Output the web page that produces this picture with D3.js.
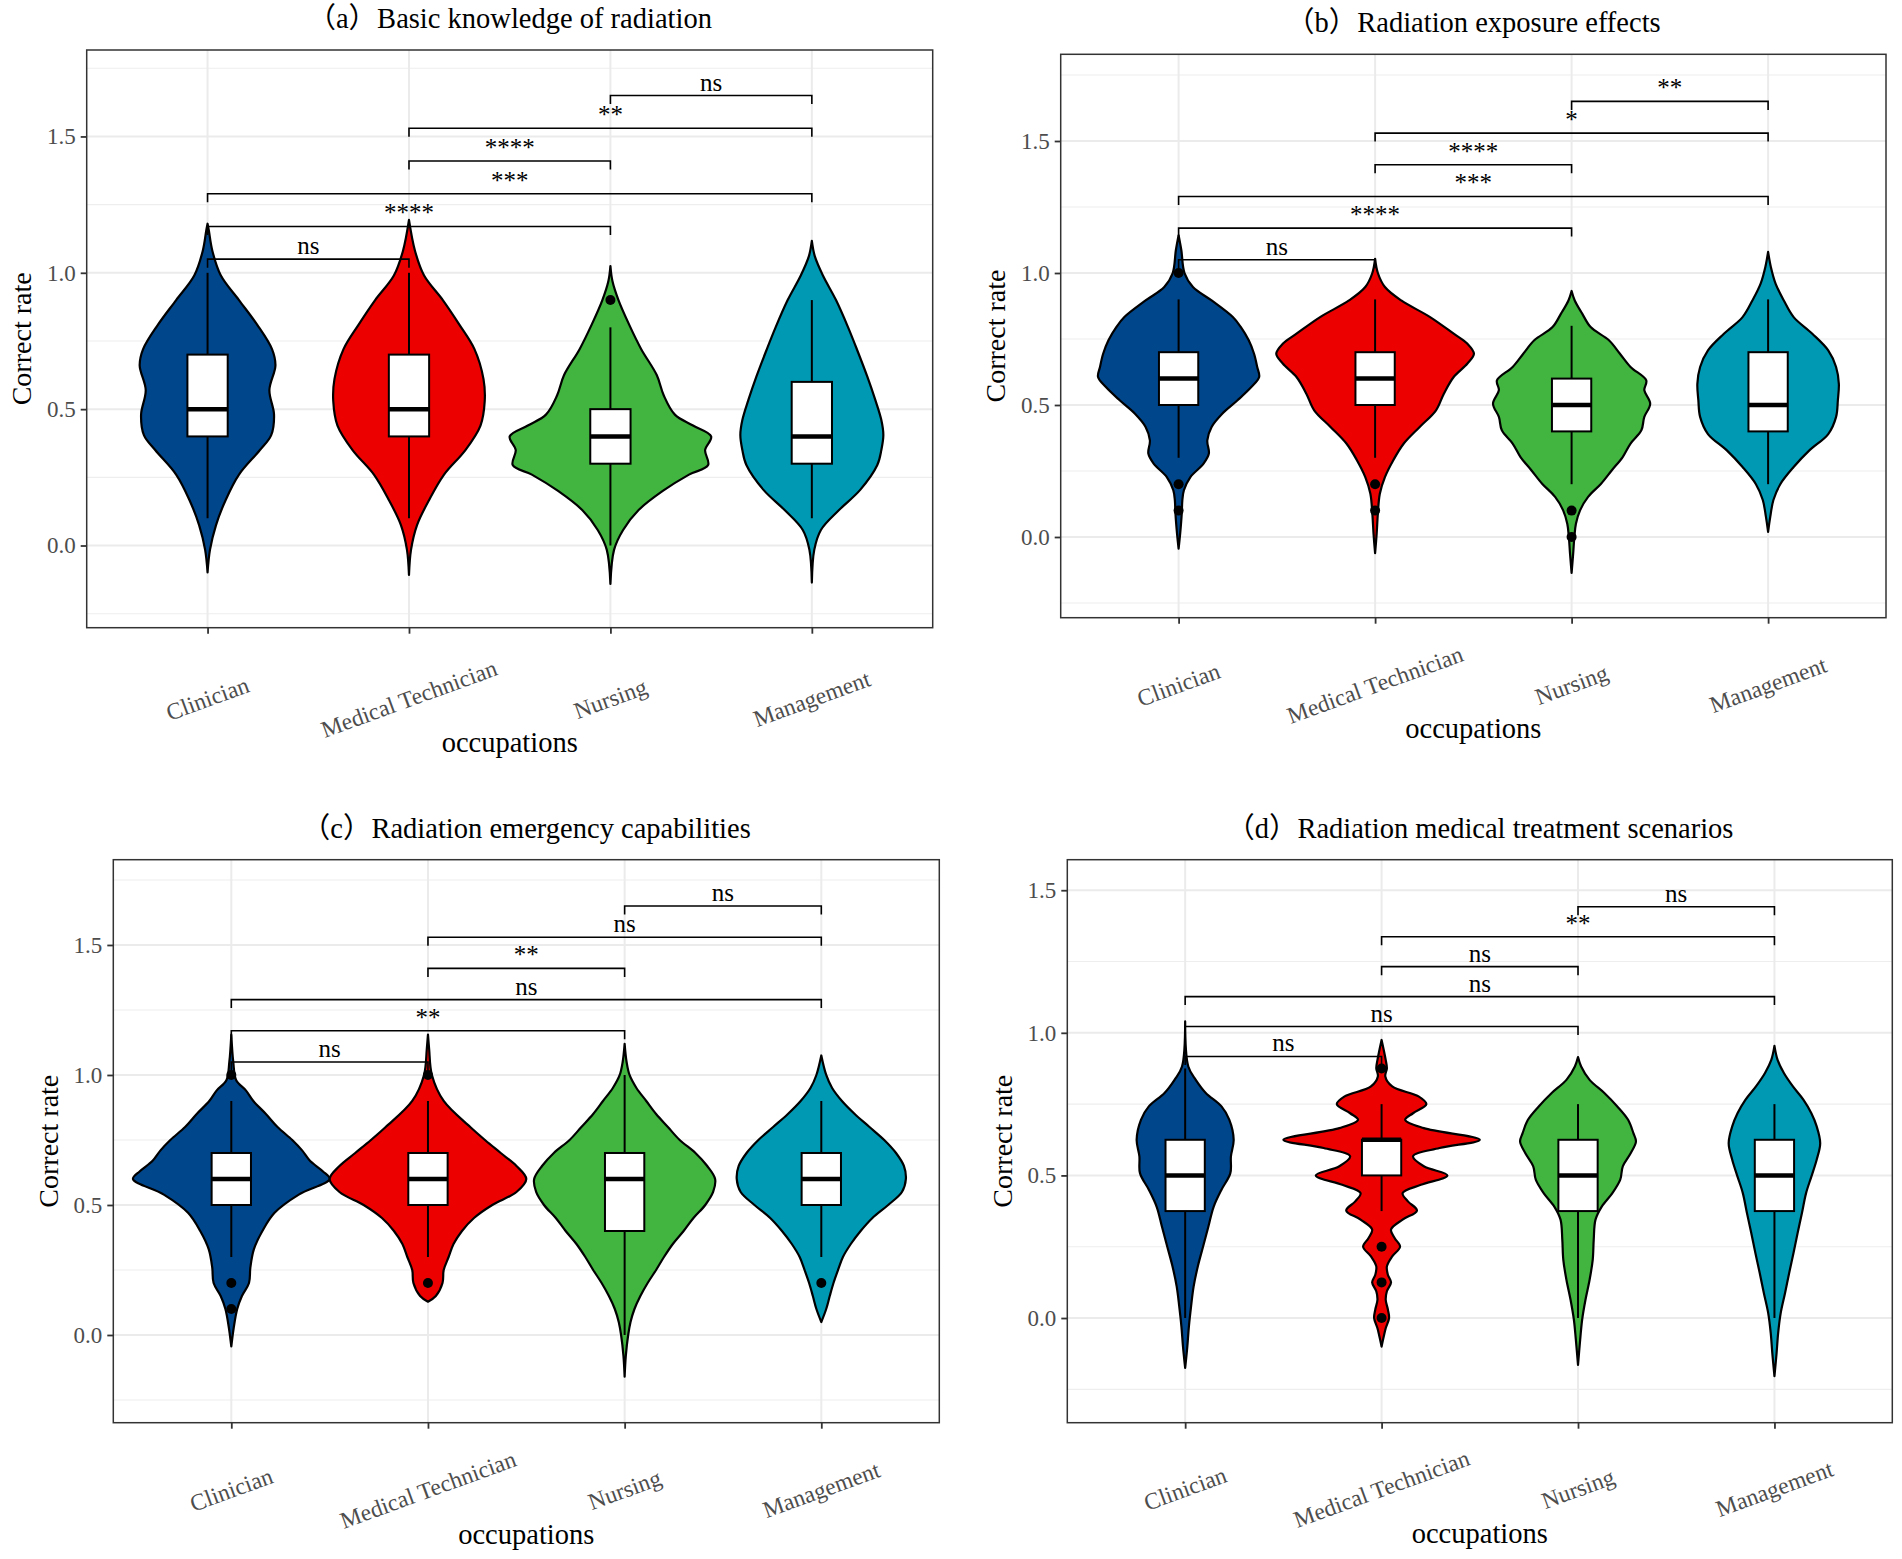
<!DOCTYPE html>
<html>
<head>
<meta charset="utf-8">
<script src="https://cdn.jsdelivr.net/npm/d3@7"></script>
<style>
  body { margin: 0; background: #fff; }
  text { font-family: "Liberation Serif", "Noto Sans CJK SC", serif; }
</style>
</head>
<body>
<div id="chart"></div>
<script>
// ---- data ----
var occupations = ["Clinician", "Medical Technician", "Nursing", "Management"];
var colors = ["#00468B", "#ED0000", "#42B540", "#0099B4"];
var titles = [
  "（a）Basic knowledge of radiation",
  "（b）Radiation exposure effects",
  "（c）Radiation emergency capabilities",
  "（d）Radiation medical treatment scenarios"
];

// comparison pairs, bottom bracket first
var pairs = [[0, 1], [0, 2], [0, 3], [1, 2], [1, 3], [2, 3]];
var sigA = ["ns", "****", "***", "****", "**", "ns"];
var sigB = ["ns", "****", "***", "****", "*", "**"];
var sigC = ["ns", "**", "ns", "**", "ns", "ns"];
var sigD = ["ns", "ns", "ns", "ns", "**", "ns"];
var bracketY = [1.05, 1.17, 1.29, 1.41, 1.53, 1.65];
var bracketYD = [0.917, 1.022, 1.127, 1.232, 1.337, 1.442];

// box stats: [lower whisker, Q1, median, Q3, upper whisker]
var boxA = [[0.1, 0.4, 0.5, 0.7, 1.0], [0.1, 0.4, 0.5, 0.7, 1.0], [0.0, 0.3, 0.4, 0.5, 0.8], [0.1, 0.3, 0.4, 0.6, 0.9]];
var boxB = [[0.3, 0.5, 0.6, 0.7, 0.9], [0.3, 0.5, 0.6, 0.7, 0.9], [0.2, 0.4, 0.5, 0.6, 0.8], [0.2, 0.4, 0.5, 0.7, 0.9]];
var boxC = [[0.3, 0.5, 0.6, 0.7, 0.9], [0.3, 0.5, 0.6, 0.7, 0.9], [0.0, 0.4, 0.6, 0.7, 1.0], [0.3, 0.5, 0.6, 0.7, 0.9]];
var boxD = [[0.0, 0.375, 0.5, 0.625, 0.875], [0.375, 0.5, 0.625, 0.625, 0.75], [0.0, 0.375, 0.5, 0.625, 0.75], [0.0, 0.375, 0.5, 0.625, 0.75]];

var outA = [[], [], [0.9], []];
var outB = [[1.0, 0.2, 0.1], [0.2, 0.1], [0.1, 0.0], []];
var outC = [[1.0, 0.2, 0.1], [1.0, 0.2], [], [0.2]];
var outD = [[], [0.875, 0.25, 0.125, 0.0], [], []];

// violin outlines: [correct rate, half width in category steps]
var violinA = [
  [[1.18, 0], [1.157, 0.006], [1.08, 0.024], [0.99, 0.066], [0.90, 0.156], [0.81, 0.246], [0.72, 0.32], [0.66, 0.337], [0.57, 0.307], [0.48, 0.33], [0.405, 0.316], [0.35, 0.26], [0.26, 0.156], [0.167, 0.09], [0.075, 0.042], [-0.016, 0.012], [-0.099, 0]],
  [[1.194, 0], [1.08, 0.03], [0.99, 0.075], [0.90, 0.168], [0.81, 0.25], [0.72, 0.325], [0.61, 0.37], [0.53, 0.376], [0.44, 0.355], [0.35, 0.28], [0.26, 0.174], [0.167, 0.1], [0.075, 0.04], [-0.016, 0.01], [-0.108, 0]],
  [[1.025, 0], [0.97, 0.01], [0.90, 0.04], [0.81, 0.093], [0.72, 0.153], [0.625, 0.23], [0.55, 0.265], [0.48, 0.32], [0.44, 0.41], [0.40, 0.5], [0.35, 0.47], [0.295, 0.485], [0.26, 0.39], [0.2, 0.26], [0.13, 0.14], [0.057, 0.063], [-0.016, 0.018], [-0.141, 0]],
  [[1.117, 0], [1.06, 0.015], [0.99, 0.055], [0.90, 0.12], [0.80, 0.18], [0.717, 0.225], [0.62, 0.275], [0.534, 0.315], [0.46, 0.345], [0.405, 0.355], [0.35, 0.345], [0.295, 0.325], [0.204, 0.24], [0.13, 0.135], [0.057, 0.045], [-0.016, 0.012], [-0.136, 0]]
];
var violinB = [
  [[1.143, 0], [1.086, 0.014], [1.0, 0.03], [0.947, 0.073], [0.896, 0.168], [0.833, 0.276], [0.795, 0.317], [0.745, 0.357], [0.694, 0.384], [0.644, 0.4], [0.606, 0.41], [0.568, 0.37], [0.518, 0.30], [0.467, 0.222], [0.417, 0.168], [0.366, 0.146], [0.316, 0.154], [0.278, 0.127], [0.227, 0.06], [0.177, 0.027], [0.139, 0.019], [0.088, 0.016], [0.013, 0.008], [-0.044, 0]],
  [[1.054, 0], [1.0, 0.014], [0.947, 0.05], [0.896, 0.133], [0.833, 0.28], [0.77, 0.40], [0.732, 0.47], [0.694, 0.503], [0.657, 0.47], [0.606, 0.40], [0.543, 0.35], [0.48, 0.31], [0.417, 0.227], [0.354, 0.146], [0.29, 0.092], [0.227, 0.05], [0.164, 0.024], [0.088, 0.014], [0.013, 0.008], [-0.061, 0]],
  [[0.932, 0], [0.896, 0.016], [0.846, 0.054], [0.795, 0.097], [0.745, 0.19], [0.694, 0.246], [0.644, 0.30], [0.593, 0.38], [0.556, 0.37], [0.505, 0.40], [0.455, 0.37], [0.404, 0.355], [0.354, 0.30], [0.303, 0.26], [0.253, 0.205], [0.202, 0.15], [0.152, 0.084], [0.101, 0.043], [0.05, 0.022], [0.0, 0.014], [-0.063, 0.008], [-0.136, 0]],
  [[1.08, 0], [1.023, 0.014], [0.96, 0.038], [0.896, 0.08], [0.833, 0.13], [0.77, 0.225], [0.707, 0.306], [0.644, 0.346], [0.58, 0.36], [0.518, 0.355], [0.455, 0.346], [0.39, 0.306], [0.328, 0.21], [0.265, 0.13], [0.2, 0.062], [0.14, 0.027], [0.076, 0.011], [0.019, 0]]
];
var violinC = [
  [[1.155, 0], [1.05, 0.01], [0.98, 0.025], [0.94, 0.075], [0.90, 0.112], [0.85, 0.176], [0.80, 0.235], [0.75, 0.31], [0.71, 0.36], [0.67, 0.40], [0.63, 0.465], [0.60, 0.50], [0.54, 0.343], [0.47, 0.22], [0.40, 0.158], [0.33, 0.115], [0.26, 0.097], [0.2, 0.09], [0.15, 0.054], [0.1, 0.03], [0.026, 0.012], [-0.044, 0]],
  [[1.155, 0], [1.1, 0.006], [1.0, 0.02], [0.9, 0.08], [0.8, 0.215], [0.75, 0.29], [0.7, 0.37], [0.65, 0.45], [0.6, 0.50], [0.55, 0.45], [0.5, 0.327], [0.45, 0.234], [0.4, 0.173], [0.35, 0.13], [0.3, 0.105], [0.25, 0.08], [0.2, 0.074], [0.15, 0.04], [0.128, 0]],
  [[1.12, 0], [1.05, 0.01], [1.0, 0.025], [0.95, 0.06], [0.9, 0.11], [0.85, 0.16], [0.8, 0.22], [0.75, 0.28], [0.7, 0.36], [0.65, 0.42], [0.6, 0.46], [0.55, 0.45], [0.5, 0.41], [0.45, 0.35], [0.4, 0.30], [0.35, 0.245], [0.3, 0.2], [0.25, 0.16], [0.2, 0.117], [0.15, 0.08], [0.1, 0.05], [0.05, 0.03], [0.0, 0.018], [-0.08, 0.006], [-0.16, 0]],
  [[1.075, 0], [1.0, 0.025], [0.95, 0.055], [0.9, 0.105], [0.85, 0.17], [0.8, 0.245], [0.75, 0.32], [0.7, 0.38], [0.65, 0.42], [0.6, 0.43], [0.55, 0.41], [0.5, 0.34], [0.45, 0.26], [0.4, 0.2], [0.35, 0.15], [0.3, 0.11], [0.25, 0.085], [0.2, 0.062], [0.15, 0.043], [0.1, 0.025], [0.05, 0]]
];
var violinD = [
  [[1.04, 0], [0.882, 0.016], [0.835, 0.054], [0.789, 0.105], [0.742, 0.185], [0.695, 0.225], [0.625, 0.247], [0.567, 0.233], [0.508, 0.23], [0.45, 0.185], [0.39, 0.145], [0.32, 0.118], [0.25, 0.091], [0.18, 0.064], [0.11, 0.043], [0.04, 0.03], [-0.03, 0.019], [-0.1, 0.011], [-0.175, 0]],
  [[0.975, 0], [0.94, 0.011], [0.905, 0.021], [0.876, 0.027], [0.847, 0.019], [0.812, 0.054], [0.777, 0.188], [0.75, 0.228], [0.718, 0.16], [0.695, 0.12], [0.666, 0.215], [0.625, 0.50], [0.596, 0.295], [0.567, 0.16], [0.532, 0.215], [0.5, 0.335], [0.467, 0.2], [0.438, 0.107], [0.409, 0.134], [0.377, 0.18], [0.345, 0.107], [0.31, 0.048], [0.28, 0.067], [0.25, 0.094], [0.216, 0.054], [0.181, 0.027], [0.152, 0.032], [0.125, 0.048], [0.094, 0.027], [0.064, 0.021], [0.03, 0.032], [0.0, 0.038], [-0.036, 0.021], [-0.065, 0.011], [-0.1, 0]],
  [[0.915, 0], [0.882, 0.016], [0.835, 0.059], [0.789, 0.134], [0.742, 0.2], [0.695, 0.255], [0.648, 0.282], [0.619, 0.295], [0.578, 0.268], [0.532, 0.228], [0.485, 0.215], [0.438, 0.175], [0.39, 0.12], [0.345, 0.089], [0.275, 0.08], [0.205, 0.075], [0.134, 0.059], [0.064, 0.038], [-0.006, 0.021], [-0.076, 0.011], [-0.164, 0]],
  [[0.954, 0], [0.905, 0.016], [0.859, 0.048], [0.812, 0.094], [0.765, 0.148], [0.718, 0.188], [0.672, 0.215], [0.613, 0.233], [0.555, 0.215], [0.496, 0.188], [0.438, 0.161], [0.368, 0.14], [0.298, 0.118], [0.228, 0.097], [0.158, 0.075], [0.088, 0.054], [0.018, 0.032], [-0.052, 0.019], [-0.122, 0.011], [-0.204, 0]]
];

var yTicks = [0, 0.5, 1, 1.5];
var yMinor = [-0.25, 0.25, 0.75, 1.25, 1.75];

// ---- layout ----
var panels = [
  { title: titles[0], violins: violinA, boxes: boxA, outliers: outA, sig: sigA, brackets: bracketY,
    x0: 86.7, x1: 932.7, y0: 50, y1: 627.7, yDomain: [-0.3014, 1.817], tickLab: 71, axisLab: 124 },
  { title: titles[1], violins: violinB, boxes: boxB, outliers: outB, sig: sigB, brackets: bracketY,
    x0: 1060.7, x1: 1886, y0: 54.3, y1: 617.7, yDomain: [-0.3057, 1.8284], tickLab: 67, axisLab: 120 },
  { title: titles[2], violins: violinC, boxes: boxC, outliers: outC, sig: sigC, brackets: bracketY,
    x0: 113.3, x1: 939.3, y0: 859.7, y1: 1422.7, yDomain: [-0.3373, 1.828], tickLab: 67, axisLab: 121 },
  { title: titles[3], violins: violinD, boxes: boxD, outliers: outD, sig: sigD, brackets: bracketYD,
    x0: 1067.3, x1: 1892.3, y0: 859.7, y1: 1422.7, yDomain: [-0.367, 1.607], tickLab: 66, axisLab: 120 }
];

var svg = d3.select("#chart").append("svg")
    .attr("width", 1902)
    .attr("height", 1559)
    .style("background", "#fff");

panels.forEach(function(p) { drawPanel(p); });

function drawPanel(p) {
  var g = svg.append("g");

  var x = d3.scalePoint()
      .domain(occupations)
      .range([p.x0, p.x1])
      .padding(0.6);
  var step = x.step();

  var y = d3.scaleLinear()
      .domain(p.yDomain)
      .range([p.y1, p.y0]);

  var inRange = function(v) { return v >= p.yDomain[0] && v <= p.yDomain[1]; };

  // Grid
  g.selectAll(".minor")
      .data(yMinor.filter(inRange))
    .enter().append("line")
      .attr("x1", p.x0).attr("x2", p.x1)
      .attr("y1", function(d) { return y(d); })
      .attr("y2", function(d) { return y(d); })
      .style("stroke", "#EEEEEE")
      .style("stroke-width", 1.1);

  g.selectAll(".majorY")
      .data(yTicks.filter(inRange))
    .enter().append("line")
      .attr("x1", p.x0).attr("x2", p.x1)
      .attr("y1", function(d) { return y(d); })
      .attr("y2", function(d) { return y(d); })
      .style("stroke", "#EBEBEB")
      .style("stroke-width", 2);

  g.selectAll(".majorX")
      .data(occupations)
    .enter().append("line")
      .attr("x1", function(d) { return x(d); })
      .attr("x2", function(d) { return x(d); })
      .attr("y1", p.y0).attr("y2", p.y1)
      .style("stroke", "#EBEBEB")
      .style("stroke-width", 2);

  // Violins
  var area = d3.area()
      .curve(d3.curveCatmullRom.alpha(0.5))
      .y(function(d) { return y(d[0]); });

  occupations.forEach(function(name, i) {
    var cx = x(name);
    area.x0(function(d) { return cx - d[1] * step; })
        .x1(function(d) { return cx + d[1] * step; });

    g.append("path")
        .datum(p.violins[i])
        .attr("d", area)
        .style("fill", colors[i])
        .style("stroke", "#000")
        .style("stroke-width", 2.2)
        .style("stroke-linejoin", "round");

    // Box plot
    var b = p.boxes[i];
    var bw = 0.2 * step;

    g.append("line")
        .attr("x1", cx).attr("x2", cx)
        .attr("y1", y(b[3])).attr("y2", y(b[4]))
        .style("stroke", "#000").style("stroke-width", 2);
    g.append("line")
        .attr("x1", cx).attr("x2", cx)
        .attr("y1", y(b[1])).attr("y2", y(b[0]))
        .style("stroke", "#000").style("stroke-width", 2);

    g.append("rect")
        .attr("x", cx - bw / 2)
        .attr("width", bw)
        .attr("y", y(b[3]))
        .attr("height", Math.max(y(b[1]) - y(b[3]), 0))
        .style("fill", "#fff")
        .style("stroke", "#000")
        .style("stroke-width", 2);

    g.append("line")
        .attr("x1", cx - bw / 2).attr("x2", cx + bw / 2)
        .attr("y1", y(b[2])).attr("y2", y(b[2]))
        .style("stroke", "#000").style("stroke-width", 4.5);

    g.selectAll(".outlier" + i)
        .data(p.outliers[i])
      .enter().append("circle")
        .attr("cx", cx)
        .attr("cy", function(d) { return y(d); })
        .attr("r", 5)
        .style("fill", "#000");
  });

  // Significance brackets
  var tip = 8.5;
  pairs.forEach(function(pr, k) {
    var xa = x(occupations[pr[0]]),
        xb = x(occupations[pr[1]]),
        yy = y(p.brackets[k]);

    g.append("path")
        .attr("d", "M" + xa + "," + (yy + tip) + "V" + yy + "H" + xb + "V" + (yy + tip))
        .style("fill", "none")
        .style("stroke", "#000")
        .style("stroke-width", 1.6);

    g.append("text")
        .attr("x", (xa + xb) / 2)
        .attr("y", yy - 5)
        .attr("text-anchor", "middle")
        .style("font-size", "25px")
        .style("fill", "#000")
        .text(p.sig[k]);
  });

  // Border
  g.append("rect")
      .attr("x", p.x0).attr("y", p.y0)
      .attr("width", p.x1 - p.x0).attr("height", p.y1 - p.y0)
      .style("fill", "none")
      .style("stroke", "#333")
      .style("stroke-width", 1.5);

  // Y axis
  var yAxis = g.append("g")
      .attr("transform", "translate(" + p.x0 + ",0)")
      .call(d3.axisLeft(y).tickValues(yTicks.filter(inRange))
        .tickFormat(d3.format(".1f")).tickSize(6).tickPadding(5));
  yAxis.select(".domain").remove();
  yAxis.selectAll(".tick line").style("stroke", "#333").style("stroke-width", 1.8);
  yAxis.selectAll(".tick text")
      .style("font-family", "Liberation Serif")
      .style("font-size", "23px")
      .style("fill", "#4D4D4D");

  // X axis
  var xAxis = g.append("g")
      .attr("transform", "translate(0," + p.y1 + ")")
      .call(d3.axisBottom(x).tickSize(6).tickFormat(""));
  xAxis.select(".domain").remove();
  xAxis.selectAll(".tick line").style("stroke", "#333").style("stroke-width", 1.8);

  g.selectAll(".xlab")
      .data(occupations)
    .enter().append("text")
      .attr("transform", function(d) {
        return "translate(" + x(d) + "," + (p.y1 + p.tickLab) + ") rotate(-20)";
      })
      .attr("text-anchor", "middle")
      .attr("dominant-baseline", "central")
      .style("font-size", "23.5px")
      .style("fill", "#4D4D4D")
      .text(function(d) { return d; });

  // Titles
  var cx = (p.x0 + p.x1) / 2;
  g.append("text")
      .attr("x", cx)
      .attr("y", p.y0 - 22)
      .attr("text-anchor", "middle")
      .style("font-size", "28.5px")
      .style("fill", "#000")
      .text(p.title);

  g.append("text")
      .attr("x", cx)
      .attr("y", p.y1 + p.axisLab)
      .attr("text-anchor", "middle")
      .style("font-size", "28.5px")
      .style("fill", "#000")
      .text("occupations");

  g.append("text")
      .attr("transform", "translate(" + (p.x0 - 65) + "," + ((p.y0 + p.y1) / 2) + ") rotate(-90)")
      .attr("text-anchor", "middle")
      .attr("dominant-baseline", "central")
      .style("font-size", "28px")
      .style("fill", "#000")
      .text("Correct rate");
}
</script>
</body>
</html>
